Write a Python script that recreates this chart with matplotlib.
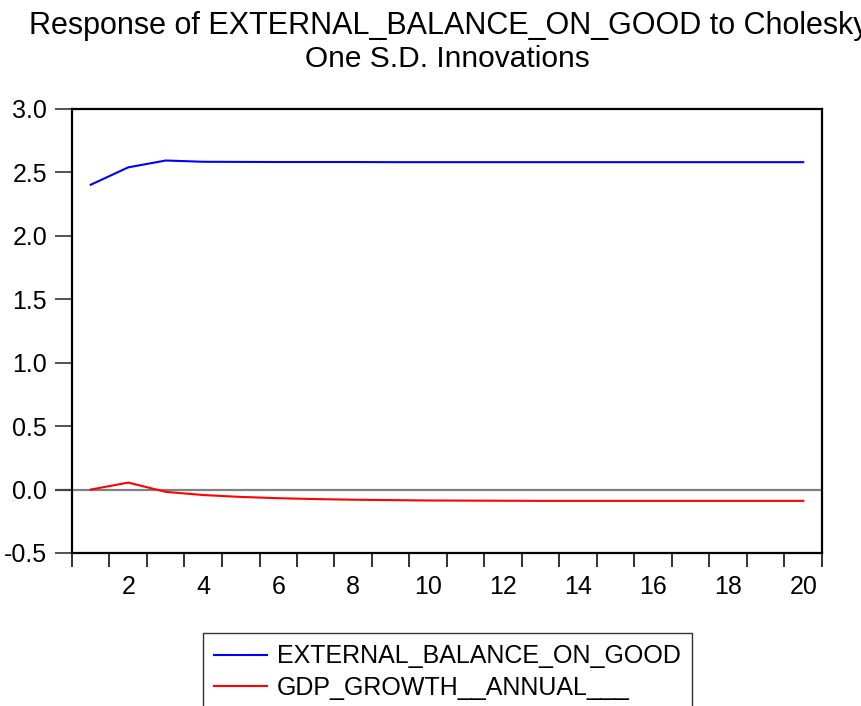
import matplotlib
matplotlib.use("Agg")
from matplotlib import pyplot as plt

plt.rcParams['font.family'] = ['Liberation Sans', 'DejaVu Sans']

# impulse response periods and values
periods = list(range(1, 21))
external_balance = [2.403, 2.540, 2.594, 2.584, 2.583, 2.582, 2.582, 2.582, 2.581, 2.581,
                    2.581, 2.581, 2.581, 2.581, 2.581, 2.581, 2.581, 2.581, 2.581, 2.581]
gdp_growth = [0.000, 0.055, -0.018, -0.043, -0.058, -0.068, -0.075, -0.080, -0.083, -0.086,
              -0.087, -0.088, -0.089, -0.089, -0.089, -0.089, -0.089, -0.089, -0.089, -0.089]
series_names = ["EXTERNAL_BALANCE_ON_GOOD", "GDP_GROWTH__ANNUAL___"]
title_lines = ["Response of EXTERNAL_BALANCE_ON_GOOD to Cholesky", "One S.D. Innovations"]

fig = plt.figure(figsize=(8.61, 7.06), dpi=100)
ax = fig.add_axes([72/861, 1-553/706, 750/861, 444/706])

ax.axhline(0, color="#808080", lw=1.6, zorder=1)
ax.plot(periods, external_balance, color="#0000ff", lw=1.5, label=series_names[0], zorder=3)
ax.plot(periods, gdp_growth, color="#ff0000", lw=1.5, label=series_names[1], zorder=3)

ax.set_xlim(0.5, 20.5)
ax.set_ylim(-0.5, 3.0)
ax.set_xticks([x + 0.5 for x in range(0, 21)])
ax.set_xticklabels([])
ax.set_xticks(range(2, 21, 2), minor=True)
ax.set_xticklabels([str(x) for x in range(2, 21, 2)], minor=True)
ax.tick_params(axis='x', which='minor', length=0, labelsize=18, pad=16)
ax.tick_params(axis='x', which='major', length=10, width=1.3, color="#222222")
ax.set_yticks([-0.5, 0.0, 0.5, 1.0, 1.5, 2.0, 2.5, 3.0])
ax.set_yticklabels(["-0.5", "0.0", "0.5", "1.0", "1.5", "2.0", "2.5", "3.0"])
ax.tick_params(axis='y', length=12, width=1.3, color="#444444", labelsize=18, pad=6)
for t in ax.yaxis.get_major_ticks():
    if abs(t.get_loc()) < 1e-9:
        t.tick1line.set_color("#808080")
        t.tick1line.set_markeredgewidth(1.6)

for s in ax.spines.values():
    s.set_linewidth(1.6)
    s.set_color("black")

fig.text(449/861, 1-34/706, title_lines[0], ha='center', va='baseline', fontsize=22)
fig.text(447/861, 1-67/706, title_lines[1], ha='center', va='baseline', fontsize=21.5)

leg = fig.legend(loc='upper left', bbox_to_anchor=(203/861, 1-633/706), fontsize=18,
                 frameon=True, fancybox=False, edgecolor="black", handlelength=2.1,
                 handletextpad=0.4, borderpad=0.45, labelspacing=0.3, borderaxespad=0)
leg.get_frame().set_linewidth(1.0)

fig.savefig("out.png", dpi=100)
